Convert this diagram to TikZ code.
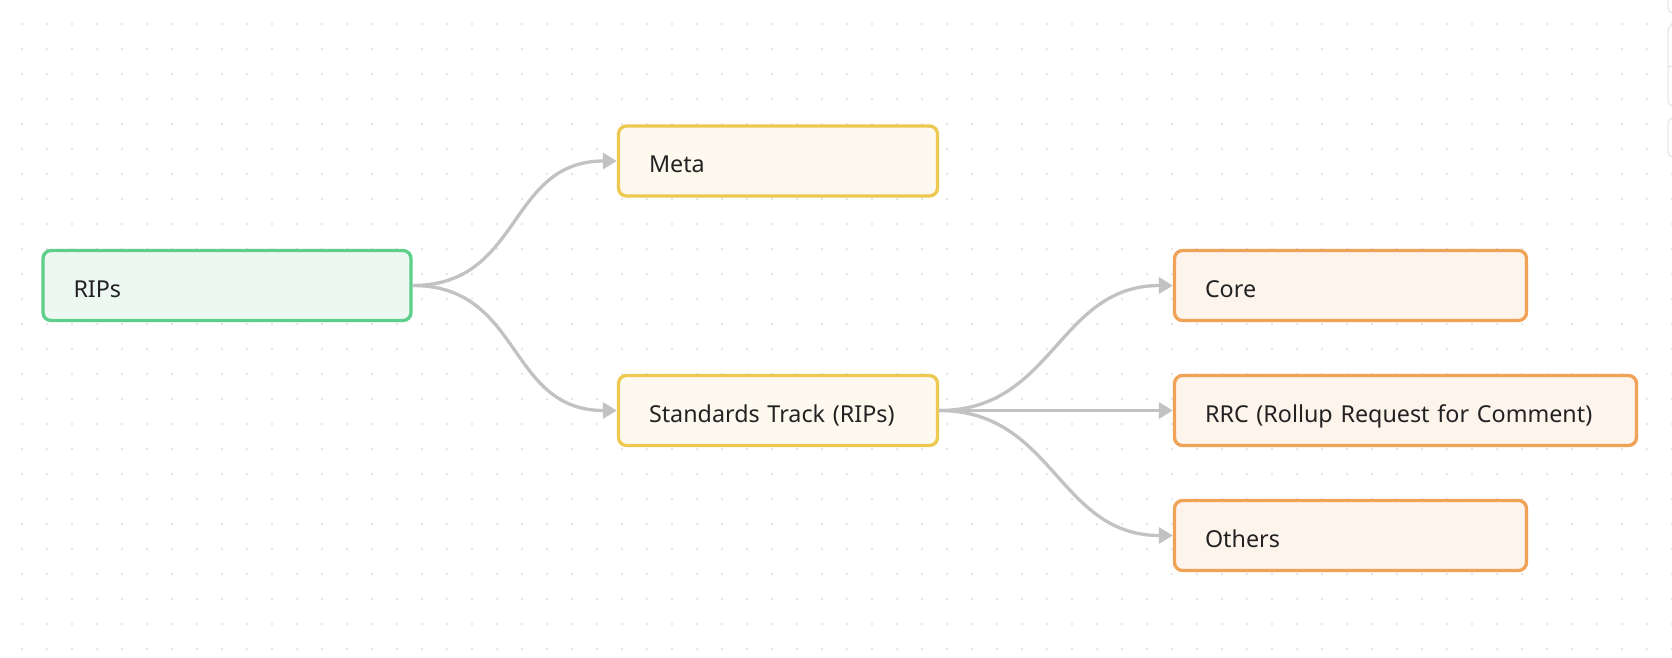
\documentclass[tikz,border=0pt]{standalone}
\usepackage{fontspec}
\setmainfont{Noto Sans}
\usetikzlibrary{arrows.meta}
\definecolor{gfill}{HTML}{EEF8F2}
\definecolor{gline}{HTML}{5DCF8B}
\definecolor{yfill}{HTML}{FDF9EE}
\definecolor{yline}{HTML}{EDC951}
\definecolor{ofill}{HTML}{FDF4EC}
\definecolor{oline}{HTML}{F0A257}
\definecolor{edgec}{HTML}{C2C2C2}
\definecolor{dotc}{HTML}{DEDEDE}
\definecolor{uic}{HTML}{E2E2E2}
\definecolor{txt}{HTML}{222222}
\begin{document}
\begin{tikzpicture}[x=1pt,y=-1pt,
  box/.style={rectangle, rounded corners=8pt, line width=3.3pt, minimum height=70pt,
    inner xsep=30.5pt, inner ysep=0pt, text height=28pt, text depth=5pt, align=left,
    font=\fontsize{23.3}{28}\selectfont, text=txt},
  rootbox/.style={box, draw=gline, fill=gfill},
  midbox/.style={box, draw=yline, fill=yfill},
  leafbox/.style={box, draw=oline, fill=ofill},
  link/.style={draw=edgec, line width=3.3pt, -{Triangle[length=14pt,width=16pt]}},
  uibox/.style={draw=uic, fill=white, line width=1pt, rounded corners=5pt}]
\useasboundingbox (0,0) rectangle (1672,657);
\clip (0,0) rectangle (1672,657);
\fill[white] (0,0) rectangle (1672,657);
\foreach \x in {22,47,...,1672}
  \foreach \y in {-1,24,...,660}
    \fill[dotc] (\x,\y) circle (1.1pt);
% top-right toolbar fragments
\draw[uibox] (1668,-20) rectangle (1700,13);
\draw[uibox] (1668,25) rectangle (1700,106);
\draw[uic, line width=1pt] (1668,66) -- (1700,66);
\draw[uibox] (1668,118) rectangle (1700,157);
% nodes
\node[rootbox, text width=307pt] (rips) at (227,285.5) {RIPs};
\node[midbox, text width=258pt] (meta) at (778,161) {Meta};
\node[midbox, text width=258pt] (std) at (778,410.5) {Standards Track (RIPs)};
\node[leafbox, text width=291pt] (core) at (1350.5,285.5) {Core};
\node[leafbox, text width=401pt] (rrc) at (1405.5,410.5) {RRC (Rollup Request for Comment)};
\node[leafbox, text width=291pt] (others) at (1350.5,535.5) {Others};
% connectors
\draw[link] (rips.east) .. controls +(110,0) and +(-110,0) .. (meta.west);
\draw[link] (rips.east) .. controls +(110,0) and +(-110,0) .. (std.west);
\draw[link] (std.east) .. controls +(115,0) and +(-115,0) .. (core.west);
\draw[link] (std.east) -- (rrc.west);
\draw[link] (std.east) .. controls +(115,0) and +(-115,0) .. (others.west);
\end{tikzpicture}
\end{document}
